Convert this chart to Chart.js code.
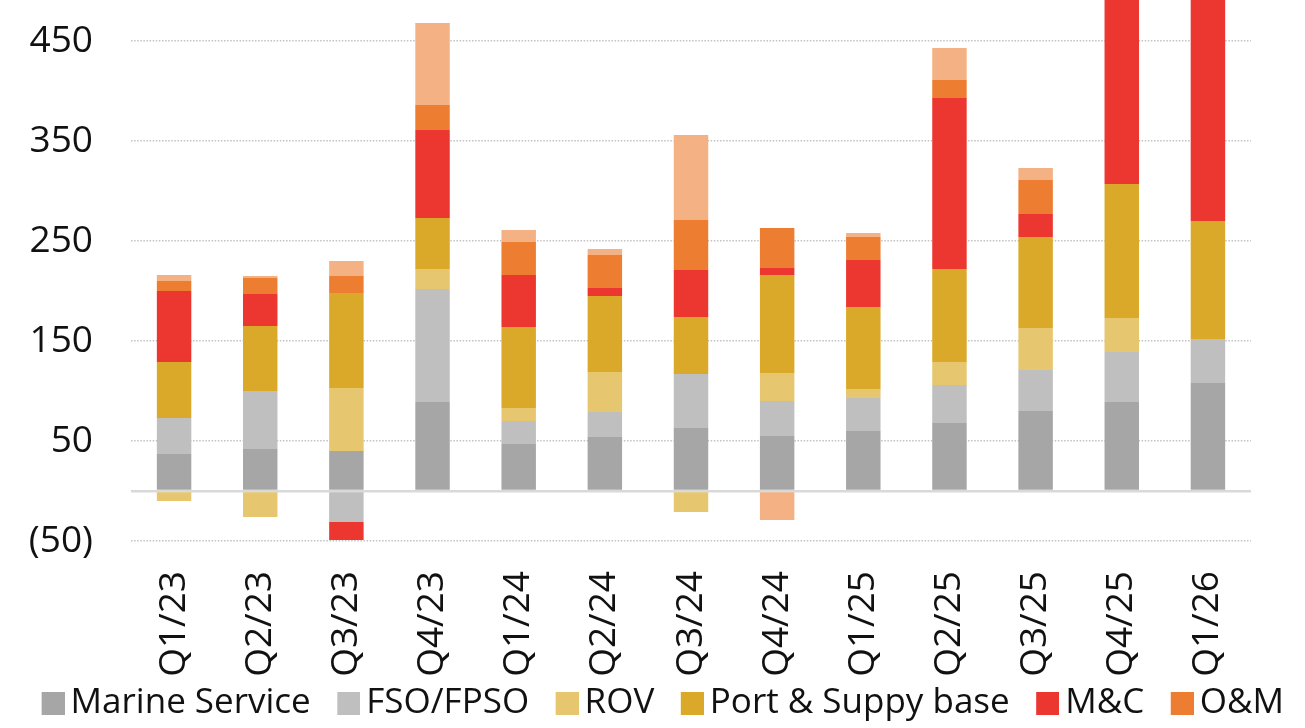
<!DOCTYPE html>
<html>
<head>
<meta charset="utf-8">
<script src="https://cdn.jsdelivr.net/npm/chart.js@4/dist/chart.umd.min.js"></script>
<style>
  html, body { margin: 0; padding: 0; background: #fff; }
  #wrap { width: 1305px; height: 728px; }
</style>
</head>
<body>
<div id="wrap"><canvas id="myChart" width="1305" height="728"></canvas></div>
<script>
const quarters = ['Q1/23', 'Q2/23', 'Q3/23', 'Q4/23', 'Q1/24', 'Q2/24', 'Q3/24', 'Q4/24', 'Q1/25', 'Q2/25', 'Q3/25', 'Q4/25', 'Q1/26'];

const marineService = [37, 42, 40, 89, 47, 54, 63, 55, 60, 68, 80, 89, 108];
const fsoFpso = [36, 58, -31, 113, 23, 25, 54, 35, 33, 38, 41, 50, 44];
const rov = [-10, -26, 63, 20, 13, 40, -21, 28, 9, 23, 42, 34, 0];
const portSupply = [56, 65, 95, 51, 81, 76, 57, 98, 82, 93, 91, 134, 118];
const mAndC = [71, 32, -18, 88, 52, 8, 47, 7, 47, 171, 23, 230, 260];
const oAndM = [10, 16, 17, 25, 33, 33, 50, 40, 23, 18, 34, 0, 0];
const other = [6, 2, 15, 82, 12, 6, 85, -29, 4, 32, 12, 0, 0];

const yTicks = [-50, 0, 50, 150, 250, 350, 450];

const colors = ['#A6A6A6', '#BFBFBF', '#E6C66F', '#DAA92A', '#EC3730', '#EC7D31', '#F4B183'];
const fontName = '"Open Sans", "Noto Sans", sans-serif';

// legend squares sit at the right end of a wider reserved box,
// so the gap before the text stays small and the gap between items grows
function legendSquare(color) {
    const c = document.createElement('canvas');
    c.width = 55;
    c.height = 23;
    const g = c.getContext('2d');
    g.fillStyle = color;
    g.fillRect(32, 0, 23, 23);
    return c;
}
const squares = colors.map(legendSquare);

function makeSet(label, data, i) {
    return {
        label: label,
        data: data,
        backgroundColor: colors[i],
        borderWidth: 0,
        stack: 'a',
        barPercentage: 0.8,
        categoryPercentage: 0.5
    };
}

const ctx = document.getElementById('myChart').getContext('2d');
const chart = new Chart(ctx, {
    type: 'bar',
    data: {
        labels: quarters,
        datasets: [
            makeSet('Marine Service', marineService, 0),
            makeSet('FSO/FPSO', fsoFpso, 1),
            makeSet('ROV', rov, 2),
            makeSet('Port & Suppy base', portSupply, 3),
            makeSet('M&C', mAndC, 4),
            makeSet('O&M', oAndM, 5),
            makeSet('Other', other, 6)
        ]
    },
    options: {
        responsive: false,
        animation: false,
        layout: { padding: { top: 0, left: 0, right: 0, bottom: -3 } },
        plugins: {
            tooltip: { enabled: false },
            legend: {
                position: 'bottom',
                align: 'center',
                labels: {
                    usePointStyle: true,
                    pointStyleWidth: 32,
                    padding: 6,
                    color: '#111',
                    font: { family: fontName, size: 35 },
                    filter: item => item.datasetIndex < 6,
                    generateLabels: c => Chart.defaults.plugins.legend.labels.generateLabels(c)
                        .map(item => Object.assign(item, { pointStyle: squares[item.datasetIndex] }))
                }
            }
        },
        scales: {
            x: {
                stacked: true,
                grid: { display: false, drawTicks: false },
                border: { display: false },
                ticks: {
                    minRotation: 90,
                    maxRotation: 90,
                    padding: 30,
                    color: '#111',
                    font: { family: fontName, size: 37 }
                },
                afterFit: s => { s.height = 139; }
            },
            y: {
                stacked: true,
                min: -50,
                max: 491,
                afterBuildTicks: s => { s.ticks = yTicks.map(v => ({ value: v })); },
                afterFit: s => { s.width = 131; s.paddingTop = 0; },
                border: {
                    display: false,
                    dash: c => (c.tick && c.tick.value === 0) ? [] : [1.5, 1.6]
                },
                grid: {
                    drawTicks: false,
                    color: c => (c.tick && c.tick.value === 0) ? '#d9d9d9' : '#c2c2c2',
                    lineWidth: c => (c.tick && c.tick.value === 0) ? 2.5 : 1.5
                },
                ticks: {
                    padding: 38,
                    color: '#111',
                    font: { family: fontName, size: 37 },
                    callback: v => v === 0 ? '' : (v < 0 ? '(' + (-v) + ')' : String(v))
                }
            },
            // empty right-hand axis that only keeps the plot clear of the right edge
            yRight: {
                position: 'right',
                grid: { display: false, drawTicks: false },
                border: { display: false },
                ticks: { display: false },
                afterFit: s => { s.width = 54; s.paddingTop = 0; s.paddingBottom = 0; }
            }
        }
    }
});
</script>
</body>
</html>
